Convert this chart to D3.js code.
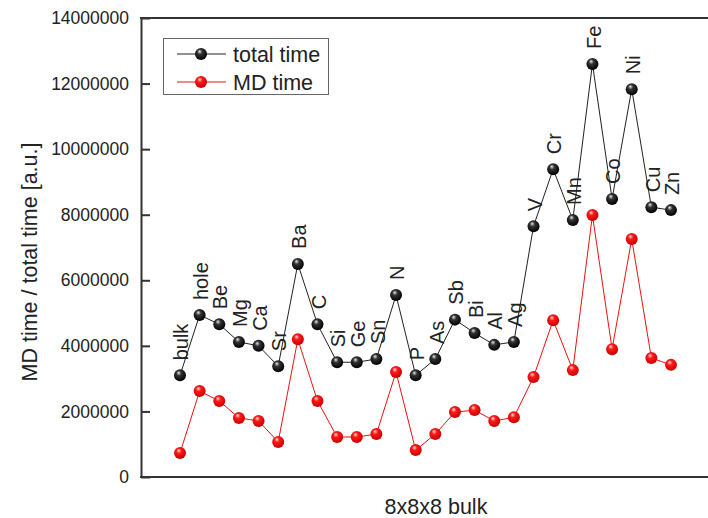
<!DOCTYPE html>
<html>
<head>
<meta charset="utf-8">
<script src="https://cdn.jsdelivr.net/npm/d3@7"></script>
<style>
  body { margin: 0; background: #fff; }
  text { font-family: "Liberation Sans", Arial, sans-serif; fill: #222; }
</style>
</head>
<body>
<div id="chart"></div>
<script>
// element / defect names along the x direction
const elements = ['bulk', 'hole', 'Be', 'Mg', 'Ca', 'Sr', 'Ba', 'C', 'Si', 'Ge', 'Sn', 'N', 'P',
  'As', 'Sb', 'Bi', 'Al', 'Ag', 'V', 'Cr', 'Mn', 'Fe', 'Co', 'Ni', 'Cu', 'Zn'];

// total time (black)
const totalTime = [3100000, 4940000, 4660000, 4120000, 4000000, 3380000, 6500000, 4660000, 3500000,
  3500000, 3600000, 5550000, 3100000, 3600000, 4800000, 4390000, 4030000, 4120000, 7650000,
  9390000, 7840000, 12600000, 8480000, 11830000, 8230000, 8140000];

// MD time (red)
const mdTime = [730000, 2620000, 2320000, 1800000, 1710000, 1070000, 4200000, 2320000, 1220000,
  1220000, 1310000, 3200000, 820000, 1310000, 1980000, 2040000, 1710000, 1820000, 3050000,
  4780000, 3260000, 7990000, 3900000, 7260000, 3630000, 3420000];

const yTicks = [0, 2000000, 4000000, 6000000, 8000000, 10000000, 12000000, 14000000];

const width = 708, height = 518;
const mLeft = 141, mRight = 708, mTop = 18, mBottom = 477;

const svg = d3.select('#chart').append('svg')
  .attr('width', width)
  .attr('height', height);

// shaded ball markers
const defs = svg.append('defs');
function ball(id, c0, c1, c2) {
  const g = defs.append('radialGradient').attr('id', id)
    .attr('cx', '45%').attr('cy', '40%').attr('r', '60%')
    .attr('fx', '38%').attr('fy', '28%');
  g.append('stop').attr('offset', '0%').attr('stop-color', c0);
  g.append('stop').attr('offset', '35%').attr('stop-color', c1);
  g.append('stop').attr('offset', '100%').attr('stop-color', c2);
}
ball('ballBlack', '#e8e8e8', '#333', '#000');
ball('ballRed', '#ffe0e0', '#ff1a1a', '#c80000');

const x = d3.scalePoint().domain(elements).range([180, 671]);
const y = d3.scaleLinear().domain([0, 14000000]).range([mBottom, mTop]);

// y axis with inward ticks
const yAxis = svg.append('g')
  .attr('transform', `translate(${mLeft},0)`)
  .call(d3.axisLeft(y).tickValues(yTicks).tickSizeInner(-9).tickSizeOuter(0).tickPadding(12).tickFormat(d3.format('d')));
yAxis.select('.domain').attr('stroke', '#333').attr('stroke-width', 2);
yAxis.selectAll('.tick line').attr('stroke', '#333').attr('stroke-width', 2);
yAxis.selectAll('.tick text')
  .style('font-family', '"Liberation Sans", Arial, sans-serif')
  .style('font-size', '17.5px')
  .attr('fill', '#222');

// top and bottom frame lines (no right edge)
svg.append('line').attr('x1', mLeft - 1).attr('x2', mRight).attr('y1', mTop).attr('y2', mTop)
  .attr('stroke', '#333').attr('stroke-width', 2);
svg.append('line').attr('x1', mLeft - 1).attr('x2', mRight).attr('y1', mBottom).attr('y2', mBottom)
  .attr('stroke', '#333').attr('stroke-width', 2);

// series
const series = [
  { name: 'total time', values: totalTime, line: '#222', fill: 'url(#ballBlack)' },
  { name: 'MD time', values: mdTime, line: '#ee1111', fill: 'url(#ballRed)' }
];

const line = d3.line().x((d, i) => x(elements[i])).y(d => y(d));

series.forEach(s => {
  svg.append('path')
    .datum(s.values)
    .attr('d', line)
    .attr('fill', 'none')
    .attr('stroke', s.line)
    .attr('stroke-width', 1);
});
series.slice().reverse().forEach(s => {
  svg.append('g').selectAll('circle')
    .data(s.values)
    .join('circle')
    .attr('cx', (d, i) => x(elements[i]))
    .attr('cy', d => y(d))
    .attr('r', 6)
    .attr('fill', s.fill);
});

// element labels above the black points
svg.append('g').selectAll('text')
  .data(totalTime)
  .join('text')
  .attr('transform', (d, i) => `translate(${x(elements[i]) + 1},${y(d) - 15}) rotate(-90)`)
  .attr('dy', '0.36em')
  .style('font-size', '20px')
  .text((d, i) => elements[i]);

// legend
const lg = svg.append('g');
lg.append('rect').attr('x', 163.5).attr('y', 38.5).attr('width', 165).attr('height', 56)
  .attr('fill', '#fff').attr('stroke', '#666').attr('stroke-width', 1);
series.forEach((s, i) => {
  const ly = 54 + i * 28;
  lg.append('line').attr('x1', 177).attr('x2', 226).attr('y1', ly).attr('y2', ly)
    .attr('stroke', s.line).attr('stroke-width', 1);
  lg.append('circle').attr('cx', 201).attr('cy', ly).attr('r', 6).attr('fill', s.fill);
  lg.append('text').attr('x', 233).attr('y', ly).attr('dy', '0.36em')
    .style('font-size', '21.5px').text(s.name);
});

// axis titles
svg.append('text')
  .attr('transform', `translate(29,262) rotate(-90)`)
  .attr('text-anchor', 'middle')
  .attr('dy', '0.36em')
  .style('font-size', '21.5px')
  .text('MD time / total time [a.u.]');

svg.append('text')
  .attr('x', 436).attr('y', 514)
  .attr('text-anchor', 'middle')
  .style('font-size', '21.5px')
  .text('8x8x8 bulk');
</script>
</body>
</html>
